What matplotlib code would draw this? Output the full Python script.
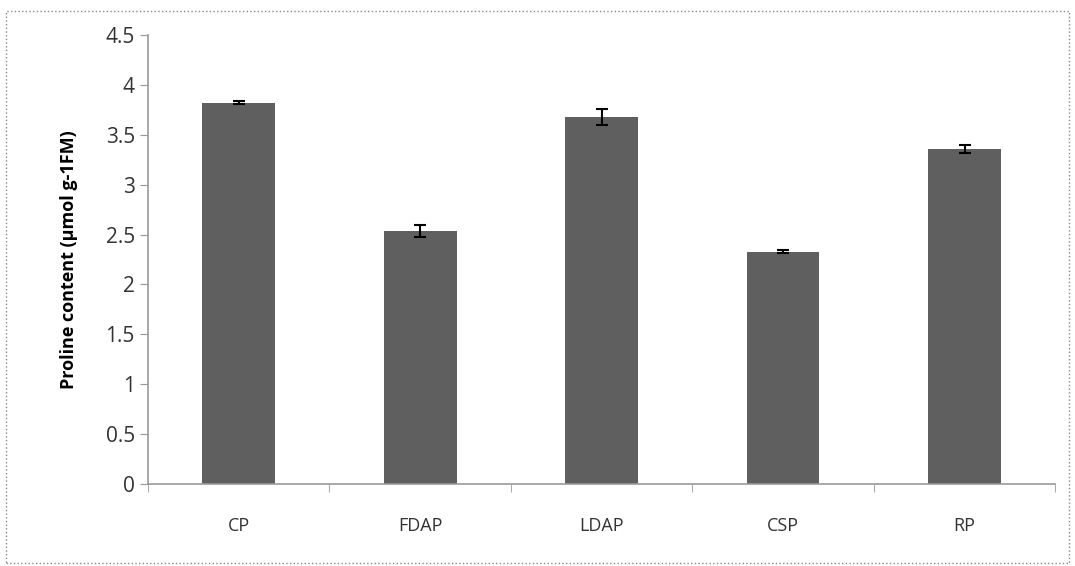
import matplotlib
matplotlib.use("Agg")
import matplotlib.pyplot as plt
from matplotlib.patches import Rectangle
import numpy as np

# Data
treatments = ["CP", "FDAP", "LDAP", "CSP", "RP"]
proline = [3.82, 2.54, 3.68, 2.33, 3.36]
proline_err = [0.015, 0.06, 0.08, 0.015, 0.04]

plt.rcParams['font.family'] = ['Open Sans', 'DejaVu Sans']

fig = plt.figure(figsize=(10.75, 5.66), dpi=100)
ax = fig.add_axes([0.1377, 0.145, 0.844, 0.793])

x = np.arange(len(treatments))
ax.bar(x, proline, width=0.4, color='#5f5f5f',
       yerr=proline_err, capsize=4, error_kw=dict(ecolor='black', elinewidth=1.5, capthick=1.5))

ax.set_xlim(-0.5, len(treatments) - 0.5)
ax.set_ylim(0, 4.5)
ax.set_yticks(np.arange(0, 4.51, 0.5))
ax.set_yticklabels(['0', '0.5', '1', '1.5', '2', '2.5', '3', '3.5', '4', '4.5'])

# category labels in the middle, tick marks on the boundaries
ax.set_xticks(x)
ax.set_xticklabels(treatments)
ax.tick_params(axis='x', length=0, pad=24, labelsize=13, colors='#333333')
ax.set_xticks(np.arange(-0.5, len(treatments)), minor=True)
ax.tick_params(axis='x', which='minor', length=6, color='#999999')
ax.tick_params(axis='y', length=6, color='#999999', labelsize=15, labelcolor='#333333')

for side in ['top', 'right']:
    ax.spines[side].set_visible(False)
for side in ['left', 'bottom']:
    ax.spines[side].set_color('#999999')
    ax.spines[side].set_linewidth(1.2)

ax.set_ylabel('Proline content (µmol g-1FM)', fontsize=13, fontweight='bold', labelpad=20)

# thin dotted frame around the figure, like the scanned source
fig.patches.append(Rectangle((0.006, 0.005), 0.988, 0.975, transform=fig.transFigure,
                             fill=False, edgecolor='#888888', linestyle=':', linewidth=1))

fig.savefig('out.png', dpi=100)
